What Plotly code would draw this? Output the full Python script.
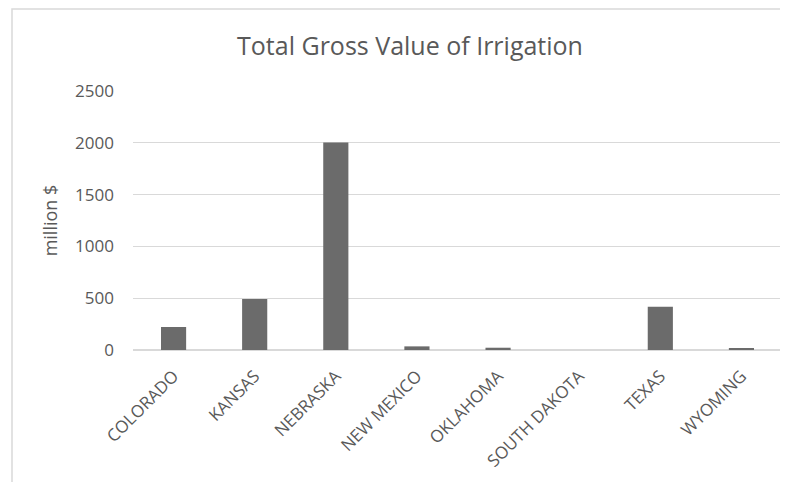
import plotly.graph_objects as go

states = ["COLORADO", "KANSAS", "NEBRASKA", "NEW MEXICO", "OKLAHOMA",
          "SOUTH DAKOTA", "TEXAS", "WYOMING"]
gross_value = [222, 492, 2003, 35, 22, 0, 418, 13]
y_ticks = [0, 500, 1000, 1500, 2000, 2500]

FONT = "'Open Sans', sans-serif"
GREY_TXT = "#595959"
GRID = "#d9d9d9"

# the page body adds an 8px offset, so the figure is 8px smaller than the window
W, H = 780, 474

fig = go.Figure(go.Bar(x=states, y=gross_value, marker=dict(color="#6b6b6b", line=dict(width=0))))

fig.update_layout(
    width=W, height=H,
    margin=dict(l=125, r=6, t=83, b=132),
    paper_bgcolor="white", plot_bgcolor="white",
    bargap=0.69,
    showlegend=False,
    title=dict(text="Total Gross Value of Irrigation", x=(410 - 8) / W, xanchor="center",
               y=1 - 38 / H, yanchor="middle",
               font=dict(family=FONT, size=25, color=GREY_TXT, weight=400)),
    font=dict(family=FONT, size=16, color=GREY_TXT),
)
fig.update_yaxes(range=[0, 2500], tickvals=y_ticks, showgrid=True, gridcolor=GRID, gridwidth=1,
                 zeroline=True, zerolinecolor=GRID, showline=False,
                 ticklabelstandoff=18, tickfont=dict(size=17),
                 title=dict(text="million $", standoff=12, font=dict(size=18, color=GREY_TXT)))
fig.update_xaxes(tickangle=-45, showline=False, showgrid=False, tickfont=dict(size=17),
                 ticklabelstandoff=12)

# chart frame (extends beyond the visible image on the right and bottom)
fig.add_shape(type="rect", xref="paper", yref="paper",
              x0=(4 - 125) / 649, x1=1.2, y0=-0.7, y1=(342 - 1) / 259,
              line=dict(color="#d9d9d9", width=1.5), fillcolor="rgba(0,0,0,0)", layer="below")

fig.write_html("out.html")
